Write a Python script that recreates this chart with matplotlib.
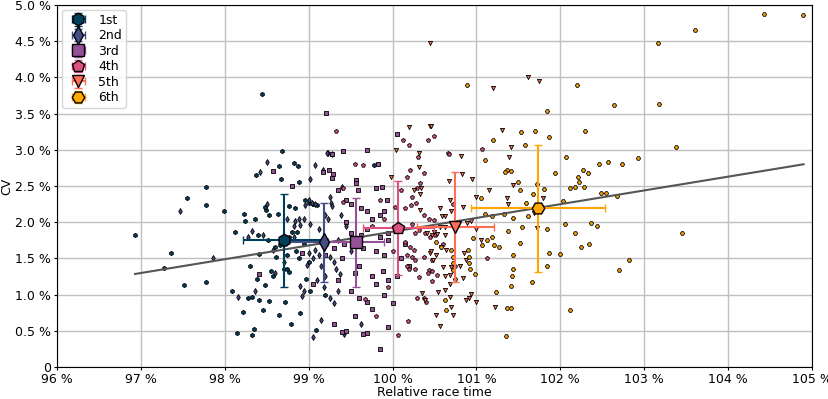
import matplotlib
matplotlib.use("Agg")
import matplotlib.pyplot as plt
from matplotlib.ticker import FuncFormatter, MultipleLocator

labels = ["1st", "2nd", "3rd", "4th", "5th", "6th"]
colors = ["#003f5c", "#444e86", "#955196", "#dd5182", "#ff6e54", "#ffa600"]
markers = ["h", "d", "s", "p", "v", "H"]

# (relative race time %, CV %) per finishing position
pts_1st = [(96.93, 1.82), (97.36, 1.58), (97.27, 1.37), (97.51, 1.13), (97.55, 2.33), (97.77, 2.48),
           (97.78, 2.24), (97.99, 2.15), (97.78, 1.17), (98.08, 1.05), (98.22, 0.76), (98.14, 0.47),
           (98.33, 0.44), (98.35, 0.52), (98.32, 0.97), (98.41, 0.93), (98.46, 0.79), (98.53, 0.91),
           (98.65, 0.72), (98.79, 0.60), (98.90, 0.74), (98.38, 1.22), (98.48, 1.13), (98.55, 1.32),
           (98.58, 1.25), (98.70, 1.35), (98.12, 1.87), (98.23, 2.12), (98.24, 2.01), (98.36, 2.04),
           (98.40, 1.83), (98.49, 2.17), (98.65, 2.78), (98.68, 2.99), (98.82, 2.82), (98.87, 2.78),
           (98.37, 2.65), (98.67, 2.60), (98.88, 2.56), (98.44, 3.77), (98.48, 2.21), (98.53, 2.10),
           (98.77, 2.23), (98.84, 2.19), (98.64, 2.12), (98.60, 1.66), (98.66, 1.68), (98.41, 1.56),
           (98.61, 1.52), (98.74, 1.55), (98.85, 1.60), (98.88, 1.51), (98.74, 1.36), (98.76, 1.31),
           (98.80, 1.87), (98.86, 1.87), (98.76, 1.80), (98.96, 2.31), (99.00, 2.27), (99.05, 2.25),
           (99.10, 2.24), (99.78, 2.79), (98.97, 1.21), (99.02, 1.05), (99.09, 0.51), (99.20, 1.00),
           (98.28, 0.95), (98.72, 0.90), (99.00, 1.45), (98.95, 1.70), (98.52, 1.75), (98.30, 1.40)]
pts_2nd = [(97.47, 2.16), (97.86, 1.51), (98.16, 0.97), (98.33, 1.88), (98.46, 1.82), (98.50, 2.25),
           (98.50, 2.83), (98.42, 2.69), (99.02, 2.60), (99.07, 2.79), (99.23, 2.95), (98.28, 1.79),
           (98.74, 2.04), (98.84, 2.02), (98.89, 2.05), (98.83, 1.95), (98.90, 1.96), (98.95, 2.05),
           (99.01, 1.98), (98.96, 2.24), (99.00, 2.30), (99.04, 2.27), (99.07, 2.25), (98.57, 1.61),
           (98.83, 1.80), (98.98, 1.41), (99.05, 1.50), (99.08, 1.62), (99.22, 2.96), (99.28, 2.94),
           (99.17, 2.72), (99.40, 2.48), (99.25, 2.35), (99.27, 2.26), (99.28, 2.23), (99.20, 2.10),
           (99.23, 2.05), (99.12, 1.55), (99.15, 1.40), (99.25, 1.52), (99.30, 1.45), (99.33, 1.35),
           (99.37, 1.28), (99.10, 1.20), (99.18, 1.10), (99.25, 0.95), (99.30, 0.88), (99.15, 0.65),
           (99.05, 0.42), (99.42, 0.45), (98.95, 1.05), (98.90, 1.12), (99.35, 1.75), (99.45, 1.95),
           (99.38, 2.10), (99.50, 1.60), (98.70, 1.45), (99.62, 0.60), (99.00, 1.58), (98.60, 1.30),
           (99.12, 1.90), (99.20, 1.25), (98.92, 0.98), (99.35, 1.05), (98.36, 1.05)]
pts_3rd = [(98.41, 1.28), (98.57, 2.71), (98.80, 2.50), (99.17, 2.69), (99.28, 2.94), (98.92, 1.58),
           (99.05, 1.14), (99.21, 3.51), (99.41, 2.98), (99.70, 3.00), (99.24, 2.72), (99.29, 2.66),
           (99.28, 2.61), (99.56, 2.58), (99.56, 2.54), (99.59, 2.44), (99.80, 2.47), (99.87, 2.48),
           (99.93, 2.30), (100.05, 3.22), (99.83, 2.80), (99.45, 2.30), (99.50, 2.25), (99.62, 2.20),
           (99.70, 2.15), (99.75, 2.05), (99.85, 2.10), (99.90, 2.15), (99.45, 2.00), (99.50, 1.85),
           (99.70, 1.90), (99.85, 1.80), (99.95, 1.85), (99.42, 1.70), (99.65, 1.65), (99.80, 1.60),
           (99.90, 1.55), (99.95, 1.75), (99.60, 1.40), (99.55, 1.30), (99.75, 1.25), (99.80, 1.15),
           (99.88, 1.32), (99.95, 1.20), (100.05, 1.25), (99.50, 1.05), (99.60, 0.95), (99.70, 0.90),
           (99.75, 0.80), (99.90, 1.00), (100.00, 0.88), (99.45, 0.50), (99.65, 0.45), (99.85, 0.25),
           (99.95, 0.55), (99.30, 0.60), (99.20, 1.55), (99.30, 1.65), (99.35, 1.20), (100.10, 1.50),
           (100.15, 1.70), (99.40, 1.50), (99.55, 0.70), (99.35, 2.45), (100.20, 1.40), (99.62, 1.83),
           (99.70, 0.47), (99.40, 0.48)]
pts_4th = [(99.33, 3.26), (100.12, 3.14), (100.19, 3.06), (100.42, 3.14), (100.66, 2.95), (100.30, 2.90),
           (100.21, 2.72), (99.65, 2.79), (99.55, 2.81), (100.17, 2.63), (100.33, 2.54), (100.29, 2.47),
           (100.23, 2.35), (100.15, 2.19), (100.22, 2.24), (100.03, 2.21), (99.90, 2.05), (100.37, 2.10),
           (100.43, 2.05), (100.49, 2.03), (100.31, 1.89), (100.27, 1.85), (100.39, 1.85), (100.45, 1.80),
           (100.51, 1.82), (100.15, 1.73), (100.21, 1.66), (100.25, 1.62), (100.17, 1.55), (100.23, 1.52),
           (100.27, 1.48), (100.37, 1.52), (100.43, 1.34), (100.47, 1.32), (100.27, 1.36), (100.32, 1.24),
           (100.42, 1.30), (100.17, 1.40), (100.20, 1.35), (100.29, 0.95), (100.40, 0.90), (100.18, 0.64),
           (100.06, 0.44), (99.67, 0.94), (100.47, 1.19), (99.41, 2.47), (99.41, 2.28), (100.49, 3.19),
           (100.67, 2.94), (100.37, 2.68), (100.28, 2.26), (100.23, 1.98), (100.47, 1.48), (100.53, 1.27),
           (100.37, 0.95), (101.13, 1.50), (101.07, 3.01), (99.85, 2.30), (99.75, 1.95), (100.00, 1.60),
           (99.95, 1.10), (100.60, 1.70), (99.80, 0.70), (100.10, 2.45), (100.72, 2.25), (100.75, 1.40)]
pts_5th = [(100.45, 4.47), (101.61, 4.00), (101.20, 3.86), (100.45, 3.33), (101.31, 3.28), (101.41, 3.04),
           (100.31, 2.95), (100.82, 2.92), (101.39, 2.90), (100.32, 2.76), (100.83, 2.67), (100.67, 2.57),
           (101.43, 2.52), (100.26, 2.44), (100.34, 2.47), (100.33, 2.39), (100.68, 2.31), (101.36, 2.34),
           (101.37, 2.25), (100.84, 2.21), (100.57, 2.20), (100.70, 2.15), (100.59, 2.09), (100.62, 2.08),
           (100.94, 2.01), (100.89, 1.99), (101.00, 1.90), (100.56, 1.94), (100.62, 1.94), (100.49, 1.87),
           (101.00, 2.35), (100.58, 1.66), (100.64, 1.62), (100.45, 1.57), (100.48, 1.48), (100.85, 1.57),
           (100.87, 1.48), (100.62, 1.26), (100.70, 1.38), (100.68, 1.27), (100.84, 1.23), (100.69, 1.15),
           (100.35, 1.02), (100.39, 0.93), (100.68, 0.97), (100.70, 0.83), (100.91, 0.95), (101.00, 0.90),
           (101.22, 0.83), (100.52, 0.72), (100.72, 0.72), (100.56, 0.56), (100.19, 3.32), (100.46, 3.33),
           (100.04, 3.00), (99.98, 2.63), (100.33, 2.17), (100.41, 1.85), (100.47, 1.82), (100.53, 1.84),
           (100.62, 1.83), (100.46, 1.60), (100.52, 1.55), (100.60, 1.38), (100.80, 1.39), (100.54, 1.04),
           (100.62, 1.07), (100.93, 1.01), (100.88, 0.93), (101.79, 2.33), (101.72, 1.92), (101.74, 3.95),
           (101.68, 2.13), (101.05, 1.75), (101.15, 2.45), (100.95, 2.60)]
pts_6th = [(100.89, 3.89), (101.53, 3.24), (101.58, 3.07), (101.20, 3.14), (101.10, 2.86), (101.36, 2.72),
           (101.41, 2.71), (101.34, 2.70), (101.49, 2.55), (101.52, 2.45), (101.06, 2.33), (101.59, 2.27),
           (101.10, 2.12), (101.18, 2.09), (101.33, 2.12), (101.43, 2.06), (101.54, 1.93), (101.38, 1.88),
           (100.96, 1.78), (101.13, 1.75), (101.19, 1.80), (101.07, 1.68), (101.21, 1.69), (101.27, 1.66),
           (100.52, 1.73), (100.58, 1.66), (100.70, 1.62), (100.72, 1.52), (100.72, 1.43), (100.72, 1.34),
           (100.74, 1.21), (100.90, 1.62), (100.91, 1.52), (100.91, 1.43), (100.92, 1.36), (100.98, 1.29),
           (100.62, 0.93), (100.64, 0.79), (101.23, 1.03), (101.44, 1.55), (101.44, 1.36), (101.42, 1.25),
           (101.41, 1.12), (101.36, 0.81), (101.41, 0.81), (101.35, 0.43), (101.52, 1.71), (101.62, 2.08),
           (102.20, 3.89), (102.64, 3.62), (101.84, 3.54), (101.70, 3.26), (102.29, 3.26), (101.86, 3.17),
           (102.07, 2.90), (101.94, 2.68), (102.27, 2.72), (102.33, 2.68), (102.21, 2.62), (102.22, 2.56),
           (102.46, 2.80), (102.57, 2.83), (102.73, 2.80), (102.93, 2.88), (102.11, 2.47), (102.17, 2.48),
           (102.28, 2.48), (102.48, 2.41), (102.55, 2.41), (102.68, 2.36), (101.72, 2.53), (101.67, 2.39),
           (101.80, 2.46), (102.03, 2.29), (102.36, 1.99), (102.44, 1.95), (102.17, 1.85), (102.34, 1.70),
           (102.25, 1.66), (102.06, 1.97), (101.84, 1.91), (101.87, 1.57), (102.00, 1.56), (101.84, 1.39),
           (101.66, 1.18), (102.82, 1.48), (102.70, 1.34), (102.12, 0.79), (104.43, 4.87), (104.89, 4.86),
           (103.60, 4.65), (103.16, 4.47), (103.18, 3.63), (103.38, 3.04), (103.45, 1.85)]

# group means and spreads
mean_x = [98.71, 99.18, 99.56, 100.07, 100.75, 101.73]
mean_y = [1.75, 1.72, 1.72, 1.92, 1.94, 2.19]
xerr = [0.49, 0.44, 0.335, 0.42, 0.455, 0.80]
yerr = [0.64, 0.55, 0.62, 0.645, 0.76, 0.88]

# linear trend (end points of the fitted line)
trend_x = [96.93, 104.9]
trend_y = [1.285, 2.80]

groups = [pts_1st, pts_2nd, pts_3rd, pts_4th, pts_5th, pts_6th]

fig = plt.figure(figsize=(8.29, 3.99), dpi=100)
ax = fig.add_axes([0.0688, 0.0802, 0.9107, 0.9073])

for pts, c, m in zip(groups, colors, markers):
    xs = [p[0] for p in pts]
    ys = [p[1] for p in pts]
    ax.scatter(xs, ys, s=9, c=c, marker=m, edgecolors="black", linewidths=0.6, zorder=3)

ax.plot(trend_x, trend_y, color="#555555", linewidth=1.5, zorder=4)

for i in range(6):
    ax.errorbar(mean_x[i], mean_y[i], xerr=xerr[i], yerr=yerr[i], fmt=markers[i], color=colors[i],
                markersize=9, markeredgecolor="black", markeredgewidth=1.0, ecolor=colors[i],
                elinewidth=1.5, capsize=3, capthick=1.2, label=labels[i], zorder=5)

ax.set_xlim(96, 105)
ax.set_ylim(0, 5)
ax.xaxis.set_major_locator(MultipleLocator(1))
ax.yaxis.set_major_locator(MultipleLocator(0.5))
ax.xaxis.set_major_formatter(FuncFormatter(lambda v, _: f"{v:.0f} %"))
ax.yaxis.set_major_formatter(FuncFormatter(lambda v, _: "0" if v == 0 else f"{v:.1f} %"))
ax.tick_params(labelsize=9, length=2.5, pad=2)
ax.set_xlabel("Relative race time", fontsize=9, labelpad=0)
ax.set_ylabel("CV", fontsize=9, labelpad=1)
ax.grid(True, color="#c0c0c0", linewidth=1)
ax.set_axisbelow(True)
ax.legend(loc="upper left", fontsize=9, borderaxespad=0.4, labelspacing=0.2,
          borderpad=0.3, handletextpad=0.6)

plt.savefig("out.png", dpi=100)
